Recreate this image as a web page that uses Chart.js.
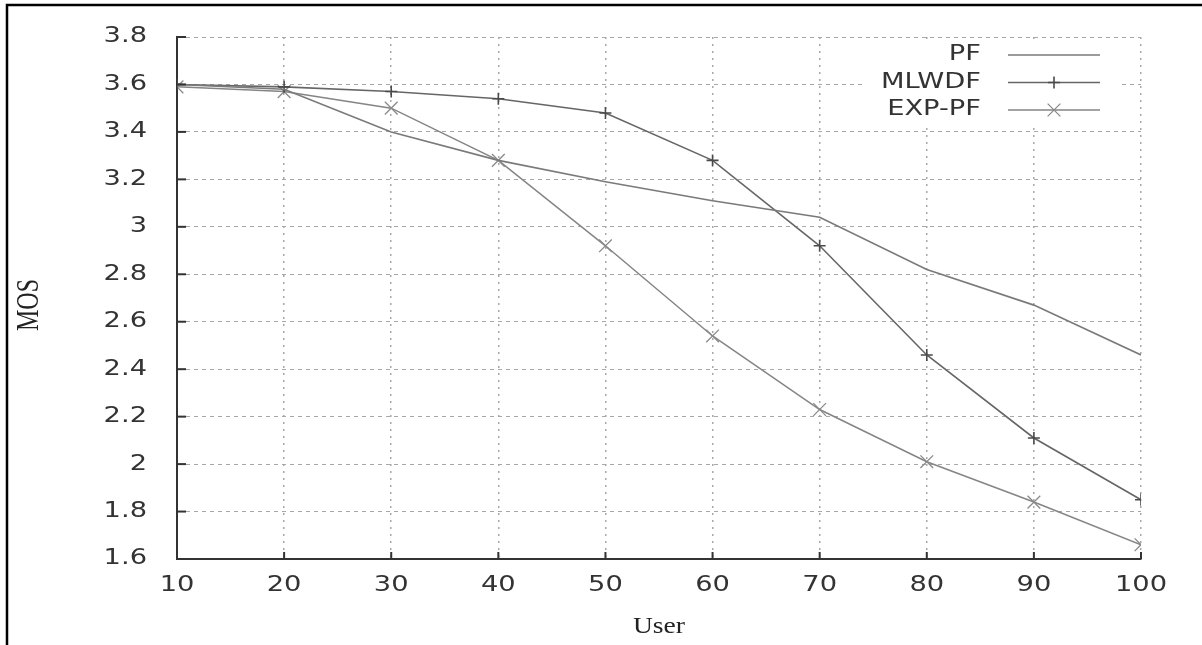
<!DOCTYPE html>
<html>
<head>
<meta charset="utf-8">
<script src="https://cdn.jsdelivr.net/npm/chart.js@4.4.1/dist/chart.umd.min.js"></script>
<style>
  html, body { margin: 0; padding: 0; background: #fff; }
  #wrap { width: 1202px; height: 645px; }
</style>
</head>
<body>
<div id="wrap"><canvas id="mosChart" width="1202" height="645"></canvas></div>
<script>
// values
const users = [10, 20, 30, 40, 50, 60, 70, 80, 90, 100];
const pf    = [3.60, 3.58, 3.40, 3.28, 3.19, 3.11, 3.04, 2.82, 2.67, 2.46];
const mlwdf = [3.60, 3.59, 3.57, 3.54, 3.48, 3.28, 2.92, 2.46, 2.11, 1.85];
const expPf = [3.59, 3.57, 3.50, 3.28, 2.92, 2.54, 2.23, 2.01, 1.84, 1.66];
const seriesNames = ['PF', 'MLWDF', 'EXP-PF'];

const SX = 1.3; // the source image is stretched sideways
const tickFont = '21px "DejaVu Sans"';
const titleFont = '24px "Liberation Serif"';
const inkColor = '#333';

function stretchText(ctx, txt, x, y, align, sx) {
  ctx.save();
  ctx.translate(x, y);
  ctx.scale(sx || SX, 1);
  ctx.textAlign = align;
  ctx.textBaseline = 'middle';
  ctx.fillText(txt, 0, 0);
  ctx.restore();
}

function drawMarker(ctx, style, x, y, r) {
  ctx.beginPath();
  if (style === 'cross') {
    ctx.moveTo(x - r, y); ctx.lineTo(x + r, y);
    ctx.moveTo(x, y - r); ctx.lineTo(x, y + r);
  } else if (style === 'crossRot') {
    const d = r * Math.SQRT1_2;
    ctx.moveTo(x - d, y - d); ctx.lineTo(x + d, y + d);
    ctx.moveTo(x - d, y + d); ctx.lineTo(x + d, y - d);
  }
  ctx.stroke();
}

const gnuplotLook = {
  id: 'gnuplotLook',
  beforeDraw(chart) {
    const ctx = chart.ctx;
    ctx.save();
    ctx.fillStyle = '#fff';
    ctx.fillRect(0, 0, chart.width, chart.height);
    // outer frame (top and left visible)
    ctx.strokeStyle = '#000';
    ctx.lineWidth = 2.5;
    ctx.beginPath();
    ctx.moveTo(7, 645); ctx.lineTo(7, 5); ctx.lineTo(1202, 5);
    ctx.stroke();
    ctx.restore();
  },
  afterDraw(chart) {
    const ctx = chart.ctx;
    const xs = chart.scales.x, ys = chart.scales.y;
    const area = chart.chartArea;
    ctx.save();

    // inward tick marks
    ctx.strokeStyle = inkColor;
    ctx.lineWidth = 2;
    ys.ticks.forEach((t, i) => {
      const py = ys.getPixelForTick(i);
      ctx.beginPath(); ctx.moveTo(area.left, py); ctx.lineTo(area.left + 9, py); ctx.stroke();
    });
    xs.ticks.forEach((t, i) => {
      const px = xs.getPixelForTick(i);
      ctx.beginPath(); ctx.moveTo(px, area.bottom); ctx.lineTo(px, area.bottom - 7); ctx.stroke();
    });

    // tick labels
    ctx.fillStyle = inkColor;
    ctx.font = tickFont;
    ys.ticks.forEach((t, i) => {
      stretchText(ctx, String(Number(t.value.toFixed(1))), area.left - 30, ys.getPixelForTick(i), 'right');
    });
    xs.ticks.forEach((t, i) => {
      stretchText(ctx, String(Math.round(t.value)), xs.getPixelForTick(i), area.bottom + 27, 'center');
    });

    // axis titles
    ctx.font = titleFont;
    ctx.fillStyle = '#222';
    stretchText(ctx, 'User', (area.left + area.right) / 2, 627, 'center', 1.15);
    ctx.save();
    ctx.translate(30, 305);
    ctx.rotate(-Math.PI / 2);
    ctx.scale(1, 1.3);
    ctx.textAlign = 'center';
    ctx.textBaseline = 'middle';
    ctx.fillText('MOS', 0, 0);
    ctx.restore();

    // key box, top right
    ctx.fillStyle = '#fff';
    ctx.fillRect(863, 44, 255, 80);
    ctx.font = tickFont;
    chart.data.datasets.forEach((ds, i) => {
      const ry = 55 + i * 27.5;
      ctx.fillStyle = inkColor;
      stretchText(ctx, ds.label, 981, ry, 'right');
      ctx.strokeStyle = ds.borderColor;
      ctx.lineWidth = ds.borderWidth;
      ctx.beginPath(); ctx.moveTo(1008, ry); ctx.lineTo(1100, ry); ctx.stroke();
      if (ds.pointRadius > 0) {
        ctx.strokeStyle = ds.pointBorderColor;
        ctx.lineWidth = ds.pointBorderWidth;
        drawMarker(ctx, ds.pointStyle, 1054, ry, ds.pointRadius);
      }
    });
    ctx.restore();
  }
};

const toPoints = vals => users.map((u, i) => ({ x: u, y: vals[i] }));

new Chart(document.getElementById('mosChart'), {
  type: 'line',
  data: {
    datasets: [
      {
        label: seriesNames[0], data: toPoints(pf),
        borderColor: '#7a7a7a', borderWidth: 1.6, pointRadius: 0,
        pointStyle: false, tension: 0
      },
      {
        label: seriesNames[1], data: toPoints(mlwdf),
        borderColor: '#666', borderWidth: 1.6, pointRadius: 6,
        pointStyle: 'cross', pointBorderColor: '#4a4a4a', pointBorderWidth: 1.6,
        pointBackgroundColor: 'transparent', tension: 0
      },
      {
        label: seriesNames[2], data: toPoints(expPf),
        borderColor: '#858585', borderWidth: 1.5, pointRadius: 9,
        pointStyle: 'crossRot', pointBorderColor: '#8a8a8a', pointBorderWidth: 1.3,
        pointBackgroundColor: 'transparent', tension: 0
      }
    ]
  },
  options: {
    responsive: false,
    animation: false,
    layout: { padding: { left: 0, top: 37, right: 61, bottom: 0 } },
    plugins: { legend: { display: false }, tooltip: { enabled: false } },
    scales: {
      x: {
        type: 'linear', min: 10, max: 100,
        ticks: { stepSize: 10, display: false },
        grid: { color: '#a8a8a8', lineWidth: 1.5, drawTicks: false },
        border: { display: true, color: inkColor, width: 2, dash: [2, 5] },
        afterFit(scale) { scale.height = 86; }
      },
      y: {
        min: 1.6, max: 3.8,
        ticks: { stepSize: 0.2, display: false },
        grid: { color: '#a8a8a8', lineWidth: 1, drawTicks: false },
        border: { display: true, color: inkColor, width: 2, dash: [4, 4] },
        afterFit(scale) { scale.width = 177; }
      }
    }
  },
  plugins: [gnuplotLook]
});
</script>
</body>
</html>
